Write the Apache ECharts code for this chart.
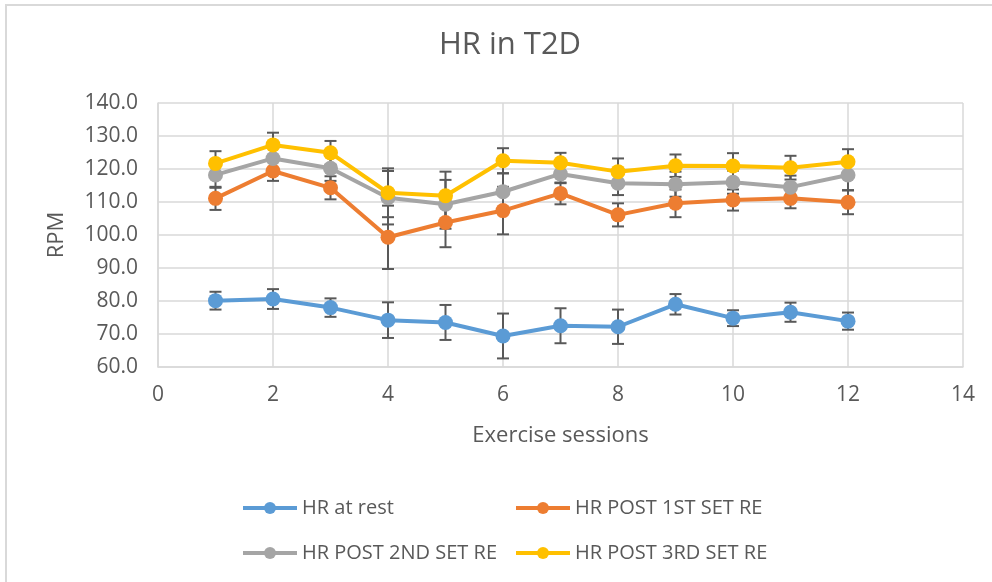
<!DOCTYPE html>
<html>
<head>
<meta charset="utf-8">
<script src="https://cdn.jsdelivr.net/npm/echarts@6/dist/echarts.min.js"></script>
<style>
  html, body { margin: 0; padding: 0; background: #fff; }
  #hrChart { width: 992px; height: 582px; }
</style>
</head>
<body>
<div id="hrChart"></div>
<script>
// sessions 1..12
const sessions = [1, 2, 3, 4, 5, 6, 7, 8, 9, 10, 11, 12];

const hrRest = [80.1, 80.6, 78.0, 74.2, 73.5, 69.4, 72.5, 72.2, 79.0, 74.8, 76.6, 73.9];
const hrRestErr = [2.7, 3.0, 2.8, 5.4, 5.3, 6.8, 5.3, 5.2, 3.1, 2.4, 2.9, 2.6];

const hrSet1 = [111.1, 119.4, 114.3, 99.3, 103.8, 107.4, 112.6, 106.1, 109.6, 110.6, 111.1, 109.9];
const hrSet1Err = [3.5, 3.0, 3.5, 9.6, 7.5, 7.2, 3.3, 3.5, 4.2, 3.2, 3.0, 3.6];

const hrSet2 = [118.2, 123.2, 120.2, 111.3, 109.3, 113.1, 118.5, 115.7, 115.4, 116.0, 114.5, 118.2];
const hrSet2Err = [3.9, 3.5, 3.8, 8.1, 7.4, 5.6, 2.8, 3.6, 3.8, 3.5, 3.5, 4.6];

const hrSet3 = [121.7, 127.3, 124.9, 112.8, 111.9, 122.5, 121.9, 119.2, 121.0, 120.9, 120.4, 122.2];
const hrSet3Err = [3.7, 3.7, 3.6, 7.4, 7.3, 3.8, 3.0, 4.0, 3.4, 3.9, 3.6, 3.8];

const seriesNames = ['HR at rest', 'HR POST 1ST SET RE', 'HR POST 2ND SET RE', 'HR POST 3RD SET RE'];
const seriesColors = ['#5B9BD5', '#ED7D31', '#A5A5A5', '#FFC000'];
const seriesValues = [hrRest, hrSet1, hrSet2, hrSet3];
const seriesErrors = [hrRestErr, hrSet1Err, hrSet2Err, hrSet3Err];

const FONT = 'Open Sans';
const TXT = '#595959';

const chart = echarts.init(document.getElementById('hrChart'));

function errorBarItem(params, api) {
  const x = api.value(0);
  const lo = api.coord([x, api.value(1)]);
  const hi = api.coord([x, api.value(2)]);
  const cap = 6;
  const style = { stroke: '#595959', lineWidth: 2 };
  return {
    type: 'group',
    children: [
      { type: 'line', shape: { x1: lo[0], y1: lo[1], x2: hi[0], y2: hi[1] }, style: style },
      { type: 'line', shape: { x1: lo[0] - cap, y1: lo[1], x2: lo[0] + cap, y2: lo[1] }, style: style },
      { type: 'line', shape: { x1: hi[0] - cap, y1: hi[1], x2: hi[0] + cap, y2: hi[1] }, style: style }
    ]
  };
}

const errSeries = seriesValues.map((vals, i) => ({
  type: 'custom',
  name: seriesNames[i] + ' err',
  renderItem: errorBarItem,
  z: 1,
  silent: true,
  data: sessions.map((s, k) => [s, vals[k] - seriesErrors[i][k], vals[k] + seriesErrors[i][k]])
}));

const lineSeries = seriesValues.map((vals, i) => ({
  type: 'line',
  name: seriesNames[i],
  z: 2 + i,
  symbol: 'circle',
  symbolSize: 15,
  showSymbol: true,
  lineStyle: { color: seriesColors[i], width: 4 },
  itemStyle: { color: seriesColors[i] },
  data: sessions.map((s, k) => [s, vals[k]])
}));

function legendBox(names, left) {
  return {
    data: names,
    orient: 'vertical',
    left: left,
    top: 498,
    padding: 0,
    itemGap: 25,
    itemWidth: 54,
    itemHeight: 15,
    lineStyle: { width: 4 },
    textStyle: { fontFamily: FONT, fontSize: 20, color: TXT }
  };
}

const option = {
  animation: false,
  backgroundColor: '#fff',
  textStyle: { fontFamily: FONT },
  graphic: [{
    type: 'rect',
    shape: { x: 6, y: 5, width: 1200, height: 800 },
    style: { fill: 'none', stroke: '#d9d9d9', lineWidth: 2 },
    silent: true
  }],
  title: {
    text: 'HR in T2D',
    left: 505,
    textAlign: 'center',
    top: 25,
    textStyle: { fontFamily: FONT, fontSize: 31, fontWeight: 'normal', color: TXT }
  },
  grid: { left: 158, right: 29, top: 103, bottom: 215 },
  legend: [
    legendBox([seriesNames[0], seriesNames[2]], 241),
    legendBox([seriesNames[1], seriesNames[3]], 514)
  ],
  xAxis: {
    type: 'value',
    min: 0,
    max: 14,
    interval: 2,
    name: 'Exercise sessions',
    nameLocation: 'middle',
    nameGap: 58,
    nameTextStyle: { fontFamily: FONT, fontSize: 22, color: TXT },
    axisLine: { lineStyle: { color: '#d9d9d9', width: 1.5 } },
    axisTick: { show: false },
    axisLabel: { fontFamily: FONT, fontSize: 21, color: TXT, margin: 18 },
    splitLine: { show: true, lineStyle: { color: '#d9d9d9', width: 1.5 } }
  },
  yAxis: {
    type: 'value',
    min: 60,
    max: 140,
    interval: 10,
    name: 'RPM',
    nameLocation: 'middle',
    nameRotate: 90,
    nameGap: 90,
    nameTextStyle: { fontFamily: FONT, fontSize: 22, color: TXT },
    axisLine: { show: true, lineStyle: { color: '#d9d9d9', width: 1.5 } },
    axisTick: { show: false },
    axisLabel: {
      fontFamily: FONT, fontSize: 21, color: TXT, margin: 20,
      formatter: v => v.toFixed(1)
    },
    splitLine: { show: true, lineStyle: { color: '#d9d9d9', width: 1.5 } }
  },
  series: errSeries.concat(lineSeries)
};

chart.setOption(option);
</script>
</body>
</html>
